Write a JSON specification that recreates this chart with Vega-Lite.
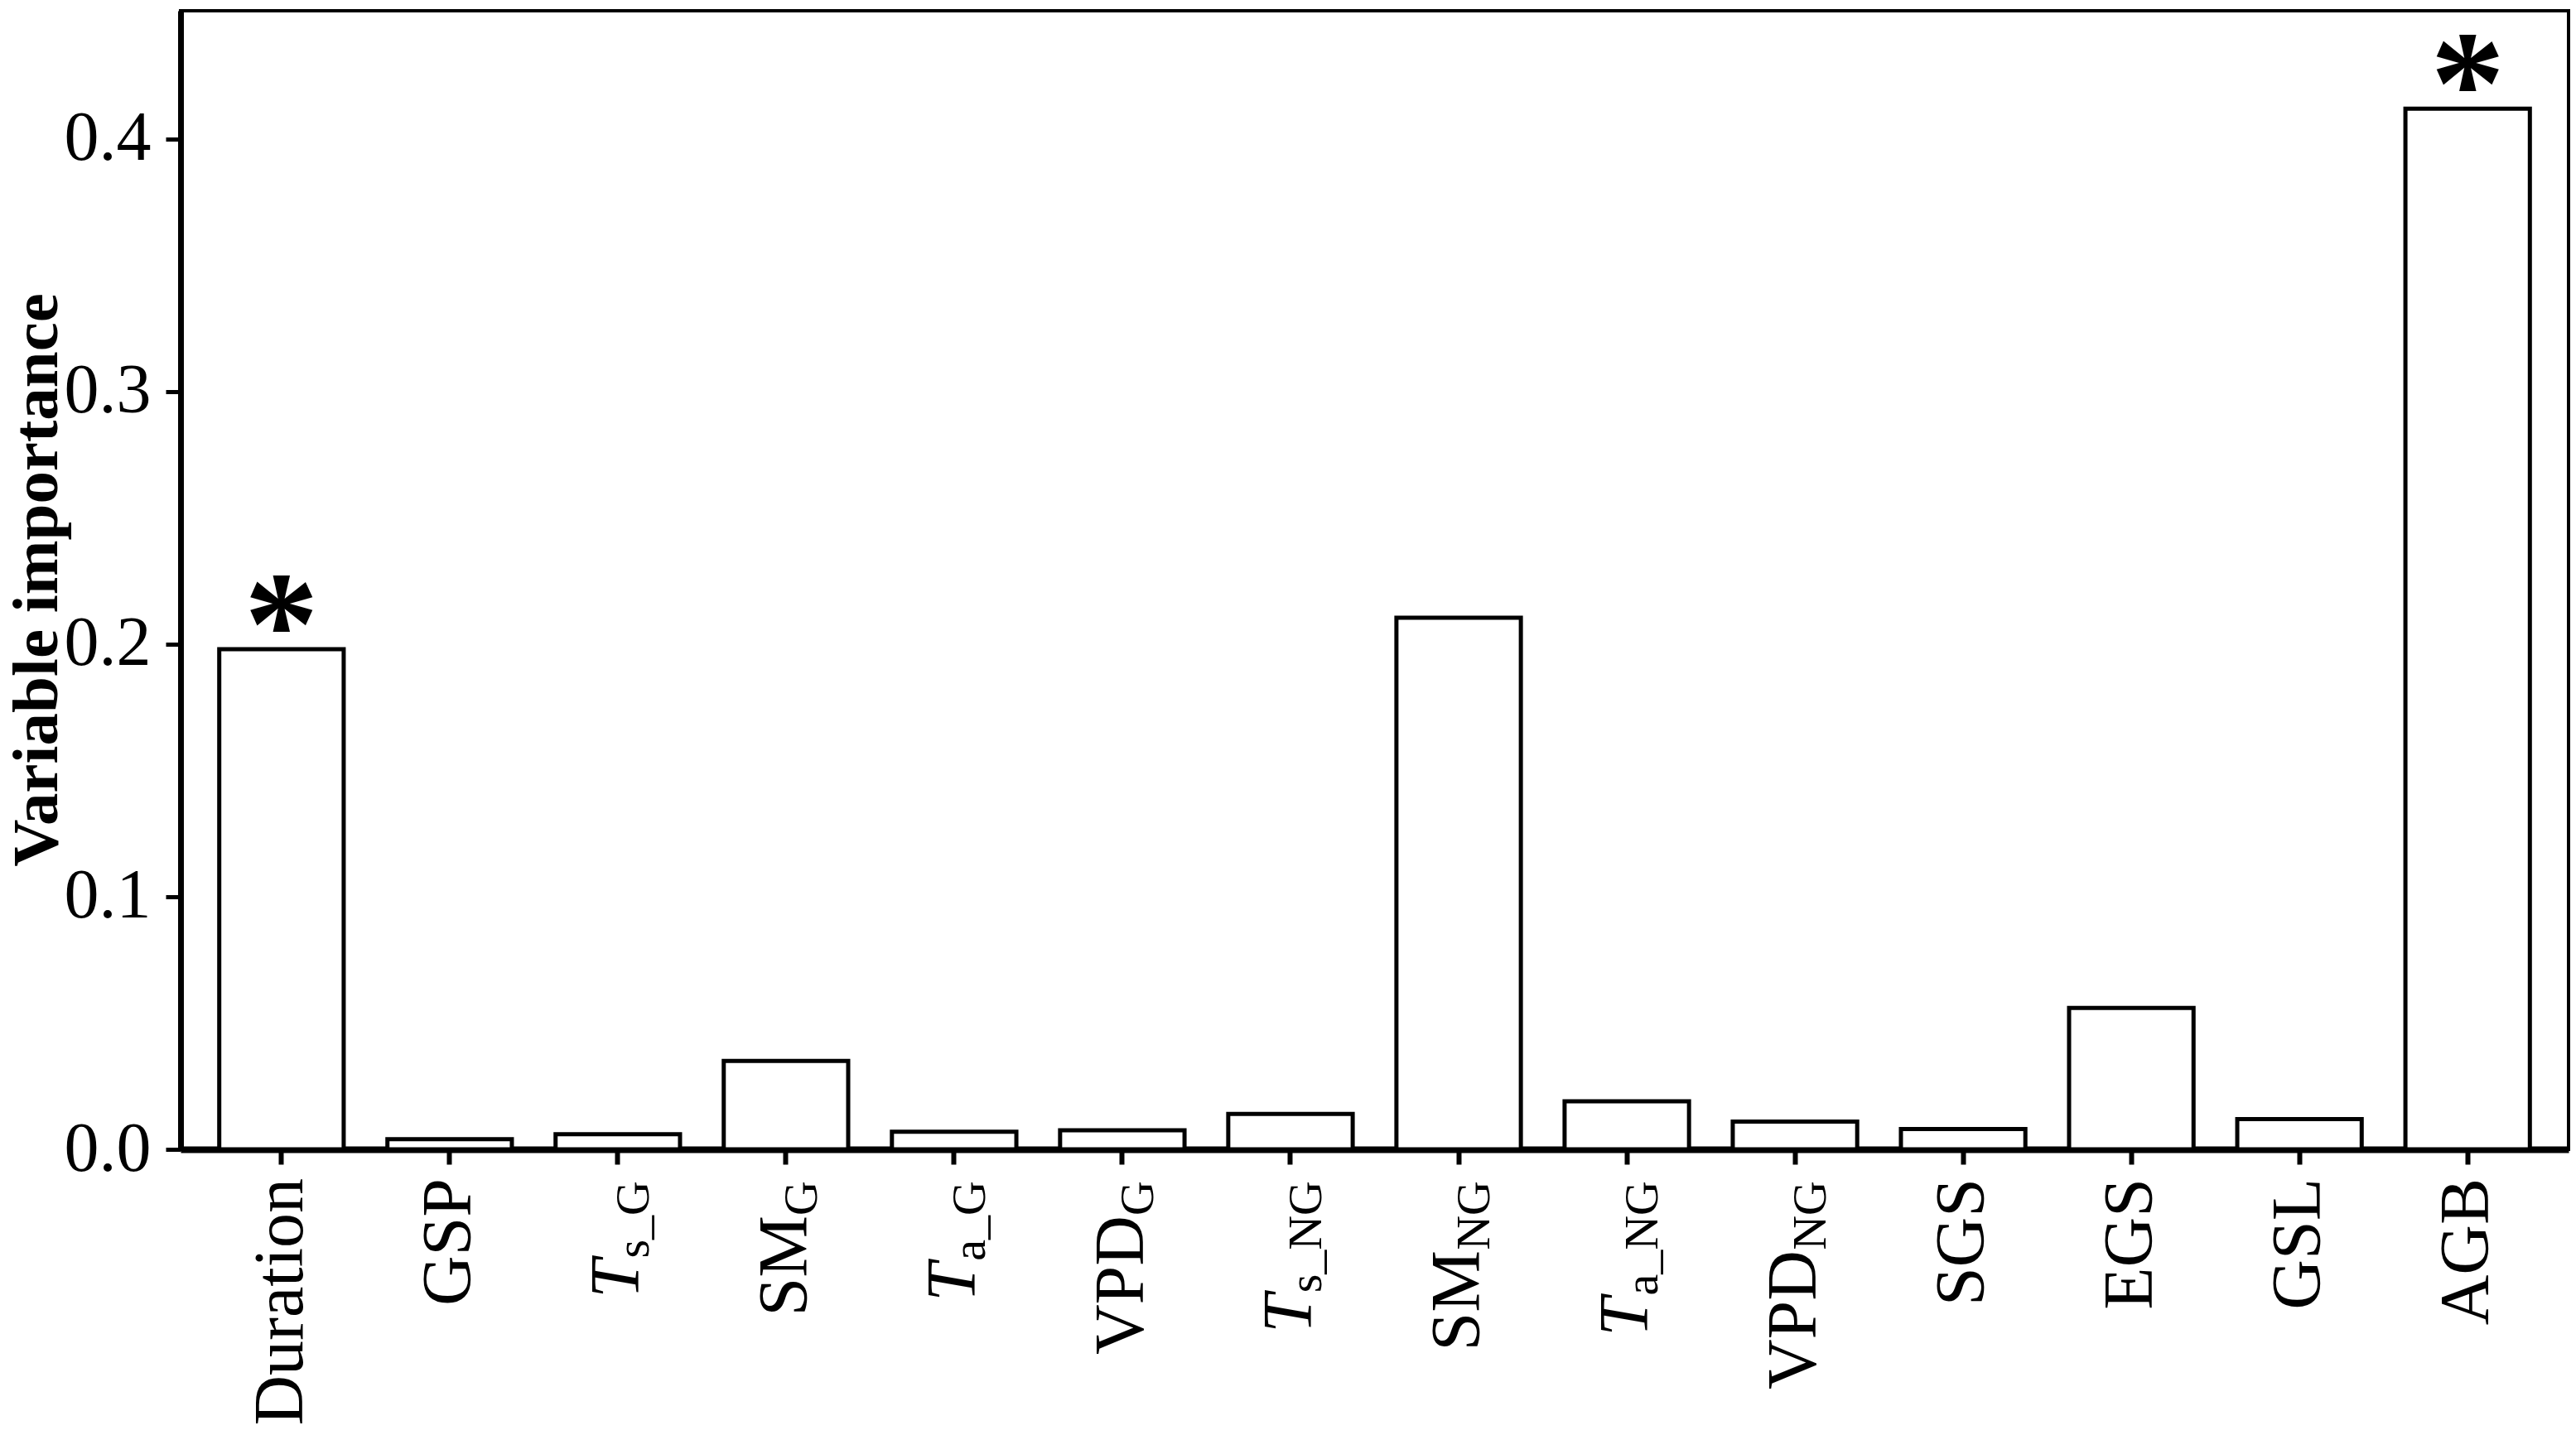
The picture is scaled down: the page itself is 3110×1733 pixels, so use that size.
{
  "$schema": "https://vega.github.io/schema/vega-lite/v6.json",
  "width": 2883,
  "height": 1375,
  "autosize": {"type": "none"},
  "padding": {"left": 218, "top": 13, "right": 9, "bottom": 345},
  "background": "white",
  "config": {
    "view": {"stroke": "black", "strokeWidth": 4},
    "font": "Liberation Serif"
  },
  "data": {
    "values": [
      {"var": "Duration", "main": "Duration", "sub": "", "value": 0.198, "star": "*"},
      {"var": "GSP", "main": "GSP", "sub": "", "value": 0.004, "star": ""},
      {"var": "Ts_G", "main": "T", "sub": "s_G", "value": 0.006, "star": ""},
      {"var": "SM_G", "main": "SM", "sub": "G", "value": 0.035, "star": ""},
      {"var": "Ta_G", "main": "T", "sub": "a_G", "value": 0.007, "star": ""},
      {"var": "VPD_G", "main": "VPD", "sub": "G", "value": 0.0075, "star": ""},
      {"var": "Ts_NG", "main": "T", "sub": "s_NG", "value": 0.014, "star": ""},
      {"var": "SM_NG", "main": "SM", "sub": "NG", "value": 0.2105, "star": ""},
      {"var": "Ta_NG", "main": "T", "sub": "a_NG", "value": 0.019, "star": ""},
      {"var": "VPD_NG", "main": "VPD", "sub": "NG", "value": 0.011, "star": ""},
      {"var": "SGS", "main": "SGS", "sub": "", "value": 0.008, "star": ""},
      {"var": "EGS", "main": "EGS", "sub": "", "value": 0.056, "star": ""},
      {"var": "GSL", "main": "GSL", "sub": "", "value": 0.012, "star": ""},
      {"var": "AGB", "main": "AGB", "sub": "", "value": 0.412, "star": "*"}
    ]
  },
  "encoding": {
    "x": {
      "field": "var",
      "type": "nominal",
      "sort": null,
      "scale": {
        "domain": ["Duration", "GSP", "Ts_G", "SM_G", "Ta_G", "VPD_G", "Ts_NG", "SM_NG", "Ta_NG", "VPD_NG", "SGS", "EGS", "GSL", "AGB"],
        "paddingInner": 0.26,
        "paddingOuter": 0.23
      },
      "axis": {
        "labels": false,
        "title": null,
        "ticks": true,
        "tickSize": 18,
        "tickWidth": 6,
        "tickColor": "black",
        "domainColor": "black",
        "domainWidth": 8,
        "grid": false
      }
    }
  },
  "layer": [
    {
      "mark": {"type": "bar", "fill": "white", "stroke": "black", "strokeWidth": 5},
      "encoding": {
        "y": {
          "field": "value",
          "type": "quantitative",
          "scale": {"domain": [0, 0.4508], "nice": false, "zero": true},
          "axis": {
            "values": [0, 0.1, 0.2, 0.3, 0.4],
            "format": ".1f",
            "grid": false,
            "labelFont": "Liberation Serif",
            "labelFontSize": 84,
            "labelColor": "black",
            "labelPadding": 18,
            "tickSize": 18,
            "tickWidth": 5,
            "tickColor": "black",
            "domainColor": "black",
            "domainWidth": 7,
            "title": "Variable importance",
            "titleFont": "Liberation Serif",
            "titleFontWeight": "bold",
            "titleFontSize": 79,
            "titleColor": "black",
            "titleAngle": 270,
            "titleAlign": "center",
            "titleBaseline": "alphabetic",
            "titleX": -150,
            "titleY": 687
          }
        }
      }
    },
    {
      "transform": [{"filter": "datum.star != ''"}],
      "mark": {"type": "text", "font": "Liberation Serif", "fontWeight": "bold", "fontSize": 180, "baseline": "alphabetic", "align": "center", "dy": 30, "color": "black"},
      "encoding": {
        "y": {"field": "value", "type": "quantitative"},
        "text": {"field": "star"}
      }
    },
    {
      "transform": [{"filter": "datum.sub == ''"}],
      "mark": {"type": "text", "angle": 270, "align": "right", "baseline": "middle", "dx": -35, "fontSize": 84, "font": "Liberation Serif", "color": "black"},
      "encoding": {"y": {"datum": 0}, "text": {"field": "main"}}
    },
    {
      "transform": [{"filter": "datum.sub == 'G'"}],
      "mark": {"type": "text", "angle": 270, "align": "right", "baseline": "middle", "dx": -80, "fontSize": 84, "font": "Liberation Serif", "color": "black"},
      "encoding": {"y": {"datum": 0}, "text": {"field": "main"}}
    },
    {
      "transform": [{"filter": "datum.sub == 'NG'"}],
      "mark": {"type": "text", "angle": 270, "align": "right", "baseline": "middle", "dx": -122, "fontSize": 84, "font": "Liberation Serif", "color": "black"},
      "encoding": {"y": {"datum": 0}, "text": {"field": "main"}}
    },
    {
      "transform": [{"filter": "datum.sub == 's_G'"}],
      "mark": {"type": "text", "angle": 270, "align": "right", "baseline": "middle", "dx": -133, "fontSize": 84, "font": "Liberation Serif", "fontStyle": "italic", "color": "black"},
      "encoding": {"y": {"datum": 0}, "text": {"field": "main"}}
    },
    {
      "transform": [{"filter": "datum.sub == 'a_G'"}],
      "mark": {"type": "text", "angle": 270, "align": "right", "baseline": "middle", "dx": -137, "fontSize": 84, "font": "Liberation Serif", "fontStyle": "italic", "color": "black"},
      "encoding": {"y": {"datum": 0}, "text": {"field": "main"}}
    },
    {
      "transform": [{"filter": "datum.sub == 's_NG'"}],
      "mark": {"type": "text", "angle": 270, "align": "right", "baseline": "middle", "dx": -175, "fontSize": 84, "font": "Liberation Serif", "fontStyle": "italic", "color": "black"},
      "encoding": {"y": {"datum": 0}, "text": {"field": "main"}}
    },
    {
      "transform": [{"filter": "datum.sub == 'a_NG'"}],
      "mark": {"type": "text", "angle": 270, "align": "right", "baseline": "middle", "dx": -179, "fontSize": 84, "font": "Liberation Serif", "fontStyle": "italic", "color": "black"},
      "encoding": {"y": {"datum": 0}, "text": {"field": "main"}}
    },
    {
      "transform": [{"filter": "datum.sub != ''"}],
      "mark": {"type": "text", "angle": 270, "align": "right", "baseline": "middle", "dx": -38, "dy": 20, "fontSize": 58, "font": "Liberation Serif", "color": "black"},
      "encoding": {"y": {"datum": 0}, "text": {"field": "sub"}}
    }
  ]
}
